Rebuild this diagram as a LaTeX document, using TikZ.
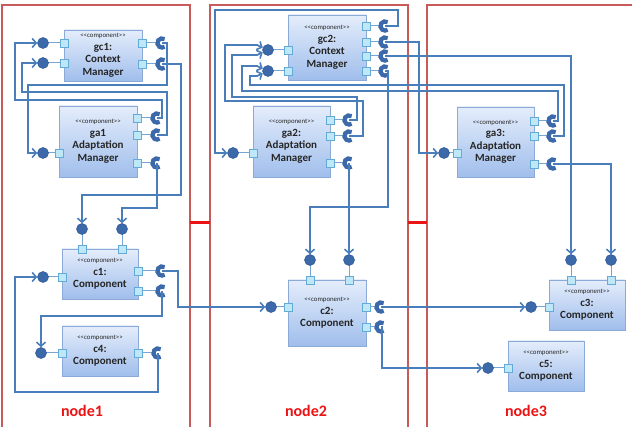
\documentclass[tikz,border=0pt]{standalone}
\usepackage{fontspec}
\setmainfont{Carlito}
\usetikzlibrary{arrows.meta}
\definecolor{connc}{RGB}{74,126,187}
\definecolor{ballf}{RGB}{60,105,170}
\definecolor{balld}{RGB}{45,85,145}
\definecolor{portf}{RGB}{190,232,248}
\definecolor{portd}{RGB}{100,170,215}
\definecolor{compt}{RGB}{228,237,251}
\definecolor{compb}{RGB}{160,190,236}
\definecolor{compd}{RGB}{140,170,215}
\definecolor{framec}{RGB}{200,90,90}
\definecolor{redc}{RGB}{235,20,20}
\definecolor{linkc}{RGB}{120,165,210}
\tikzset{
 comp/.style={draw=compd, line width=0.8pt, top color=compt, bottom color=compb, align=center, inner sep=0pt, text=black!85, font=\bfseries\fontsize{11}{12.5}\selectfont},
 portsq/.style={draw=portd, fill=portf, minimum size=8pt, inner sep=0pt, line width=0.6pt},
 ballc/.style={circle, fill=ballf, draw=balld, line width=0.5pt, minimum size=11pt, inner sep=0pt},
 sockarc/.style={draw=ballf, line width=4.2pt},
 conn/.style={draw=connc, line width=1.8pt},
 arr/.style={conn, -{Straight Barb[length=4pt,width=9pt,line width=1.6pt]}},
 plink/.style={draw=linkc, line width=1pt},
 frame/.style={draw=framec, line width=1.5pt},
 redline/.style={draw=redc, line width=3pt},
 nodelab/.style={text=redc, font=\bfseries\fontsize{16}{18}\selectfont},
}
\newcommand\stereo{{\fontsize{6.8}{8}\selectfont\mdseries <{}<component>{}>}}
\newcommand\pball[4]{\draw[plink] (#2) -- (#4); \node[portsq] (#1) at (#2) {}; \node[ballc] (#3) at (#4) {};}
\newcommand\psock[4]{\coordinate (#3) at (#4); \draw[plink] (#2) -- ([xshift=-6pt]#3); \node[portsq] (#1) at (#2) {}; \draw[sockarc] ([shift={(55:4.6pt)}]#3) arc[start angle=55, end angle=305, radius=4.6pt];}
\begin{document}
\begin{tikzpicture}[x=1pt,y=-1pt]
\useasboundingbox (0,0) rectangle (632,427);
% deployment nodes
\draw[frame] (2,432) -- (2,5) -- (190,5) -- (190,432);
\draw[frame] (210,432) -- (210,5) -- (408,5) -- (408,432);
\draw[frame] (427,432) -- (427,5) -- (640,5);
\draw[redline] (190,223) -- (210,223);
\draw[redline] (408,223) -- (427,223);
\node[nodelab] (n1) at (82,411) {node1};
\node[nodelab] (n2) at (306,411) {node2};
\node[nodelab] (n3) at (526,411) {node3};
% components
\node[comp, minimum width=78pt, minimum height=51pt] (gc1) at (103,55.5) {\stereo\\gc1:\\Context\\Manager};
\node[comp, minimum width=78pt, minimum height=71pt] (ga1) at (98,141.5) {\stereo\\ga1\\Adaptation\\Manager};
\node[comp, minimum width=76pt, minimum height=50pt] (c1) at (100,274) {\stereo\\c1:\\Component};
\node[comp, minimum width=76pt, minimum height=50pt] (c4) at (100,351) {\stereo\\c4:\\Component};
\node[comp, minimum width=78pt, minimum height=65pt] (gc2) at (327,47.5) {\stereo\\gc2:\\Context\\Manager};
\node[comp, minimum width=77pt, minimum height=71pt] (ga2) at (291.5,141.5) {\stereo\\ga2:\\Adaptation\\Manager};
\node[comp, minimum width=78pt, minimum height=66pt] (c2) at (327,313) {\stereo\\c2:\\Component};
\node[comp, minimum width=77pt, minimum height=70pt] (ga3) at (495.5,142) {\stereo\\ga3:\\Adaptation\\Manager};
\node[comp, minimum width=76pt, minimum height=50pt] (c3) at (587,305) {\stereo\\c3:\\Component};
\node[comp, minimum width=76pt, minimum height=50pt] (c5) at (546,366) {\stereo\\c5:\\Component};
% ports, balls, sockets
\pball{gc1pl1}{64,43}{gc1b1}{43,43}
\pball{gc1pl2}{64,63}{gc1b2}{43,63}
\psock{gc1pr1}{142,43}{gc1s1}{162,43}
\psock{gc1pr2}{142,64}{gc1s2}{162,64}
\psock{ga1pr1}{137,118}{ga1s1}{157,118}
\psock{ga1pr2}{137,135}{ga1s2}{157,135}
\psock{ga1pr3}{137,163}{ga1s3}{157,163}
\pball{ga1pl}{59,153}{ga1b}{43,153}
\pball{c1pt1}{82,249}{c1b1}{82,229}
\pball{c1pt2}{122,249}{c1b2}{122,229}
\pball{c1pl}{62,277}{c1b3}{43,277}
\psock{c1pr1}{138,271}{c1s1}{162,271}
\psock{c1pr2}{138,291}{c1s2}{162,291}
\pball{c4pl}{62,353}{c4b}{41,353}
\psock{c4pr}{138,353}{c4s}{158,353}
\psock{gc2pr1}{366,26}{gc2s1}{385,26}
\psock{gc2pr2}{366,42}{gc2s2}{385,42}
\psock{gc2pr3}{366,56}{gc2s3}{385,56}
\psock{gc2pr4}{366,71}{gc2s4}{385,71}
\pball{gc2pl1}{288,50}{gc2b1}{268,50}
\pball{gc2pl2}{288,71}{gc2b2}{268,71}
\psock{ga2pr1}{330,120}{ga2s1}{349,120}
\psock{ga2pr2}{330,136}{ga2s2}{349,136}
\psock{ga2pr3}{330,163}{ga2s3}{349,163}
\pball{ga2pl}{253,153}{ga2b}{233,153}
\pball{c2pt1}{310,280}{c2b1}{310,260}
\pball{c2pt2}{349,280}{c2b2}{349,260}
\pball{c2pl}{288,307}{c2b}{271,307}
\psock{c2pr1}{366,307}{c2s1}{381,307}
\psock{c2pr2}{366,327}{c2s2}{381,327}
\psock{ga3pr1}{534,121}{ga3s1}{553,121}
\psock{ga3pr2}{534,136}{ga3s2}{553,136}
\psock{ga3pr3}{534,164}{ga3s3}{553,164}
\pball{ga3pl}{457,153}{ga3b}{444,153}
\pball{c3pt1}{571,280}{c3b1}{571,260}
\pball{c3pt2}{611,280}{c3b2}{611,260}
\pball{c3pl}{549,307}{c3b}{531,307}
\pball{c5pl}{508,368}{c5b}{488,368}
% connectors node1
\draw[arr] (ga1s1) -- (162,118) -- (162,100) -- (15,100) -- (15,43) -- (gc1b1);
\draw[arr] (ga1s2) -- (167,135) -- (167,92) -- (22,92) -- (22,63) -- (gc1b2);
\draw[arr] (gc1s1) -- (167,43) -- (167,85) -- (28,85) -- (28,153) -- (ga1b);
\draw[arr] (gc1s2) -- (181,64) -- (181,195) -- (82,195) -- (c1b1);
\draw[arr] (ga1s3) -- (157,208) -- (122,208) -- (c1b2);
\draw[arr] (c1s1) -- (178,271) -- (178,307) -- (c2b);
\draw[arr] (c1s2) -- (162,316) -- (41,316) -- (c4b);
\draw[arr] (c4s) -- (158,392) -- (15,392) -- (15,277) -- (c1b3);
% connectors node2 / node3
\draw[arr] (gc2s1) -- (398,26) -- (398,10) -- (215,10) -- (215,153) -- (ga2b);
\draw[arr] (gc2s2) -- (419,42) -- (419,153) -- (ga3b);
\draw[arr] (gc2s3) -- (571,56) -- (c3b1);
\draw[arr] (gc2s4) -- (388,71) -- (388,207) -- (310,207) -- (c2b1);
\draw[arr] (ga2s3) -- (c2b2);
\draw[arr] (ga2s1) -- (357,120) -- (357,97) -- (232,97) -- (232,55) -- (257,55) -- (gc2b1);
\draw[arr] (ga2s2) -- (363,136) -- (363,101) -- (225,101) -- (225,45) -- (257,45) -- (gc2b1);
\draw[arr] (ga3s1) -- (558,121) -- (558,91) -- (242,91) -- (242,66) -- (257,66) -- (gc2b2);
\draw[arr] (ga3s2) -- (564,136) -- (564,85) -- (250,85) -- (250,76) -- (257,76) -- (gc2b2);
\draw[arr] (ga3s3) -- (611,164) -- (c3b2);
\draw[arr] (c2s1) -- (c3b);
\draw[arr] (c2s2) -- (382,327) -- (382,368) -- (c5b);
\end{tikzpicture}
\end{document}
